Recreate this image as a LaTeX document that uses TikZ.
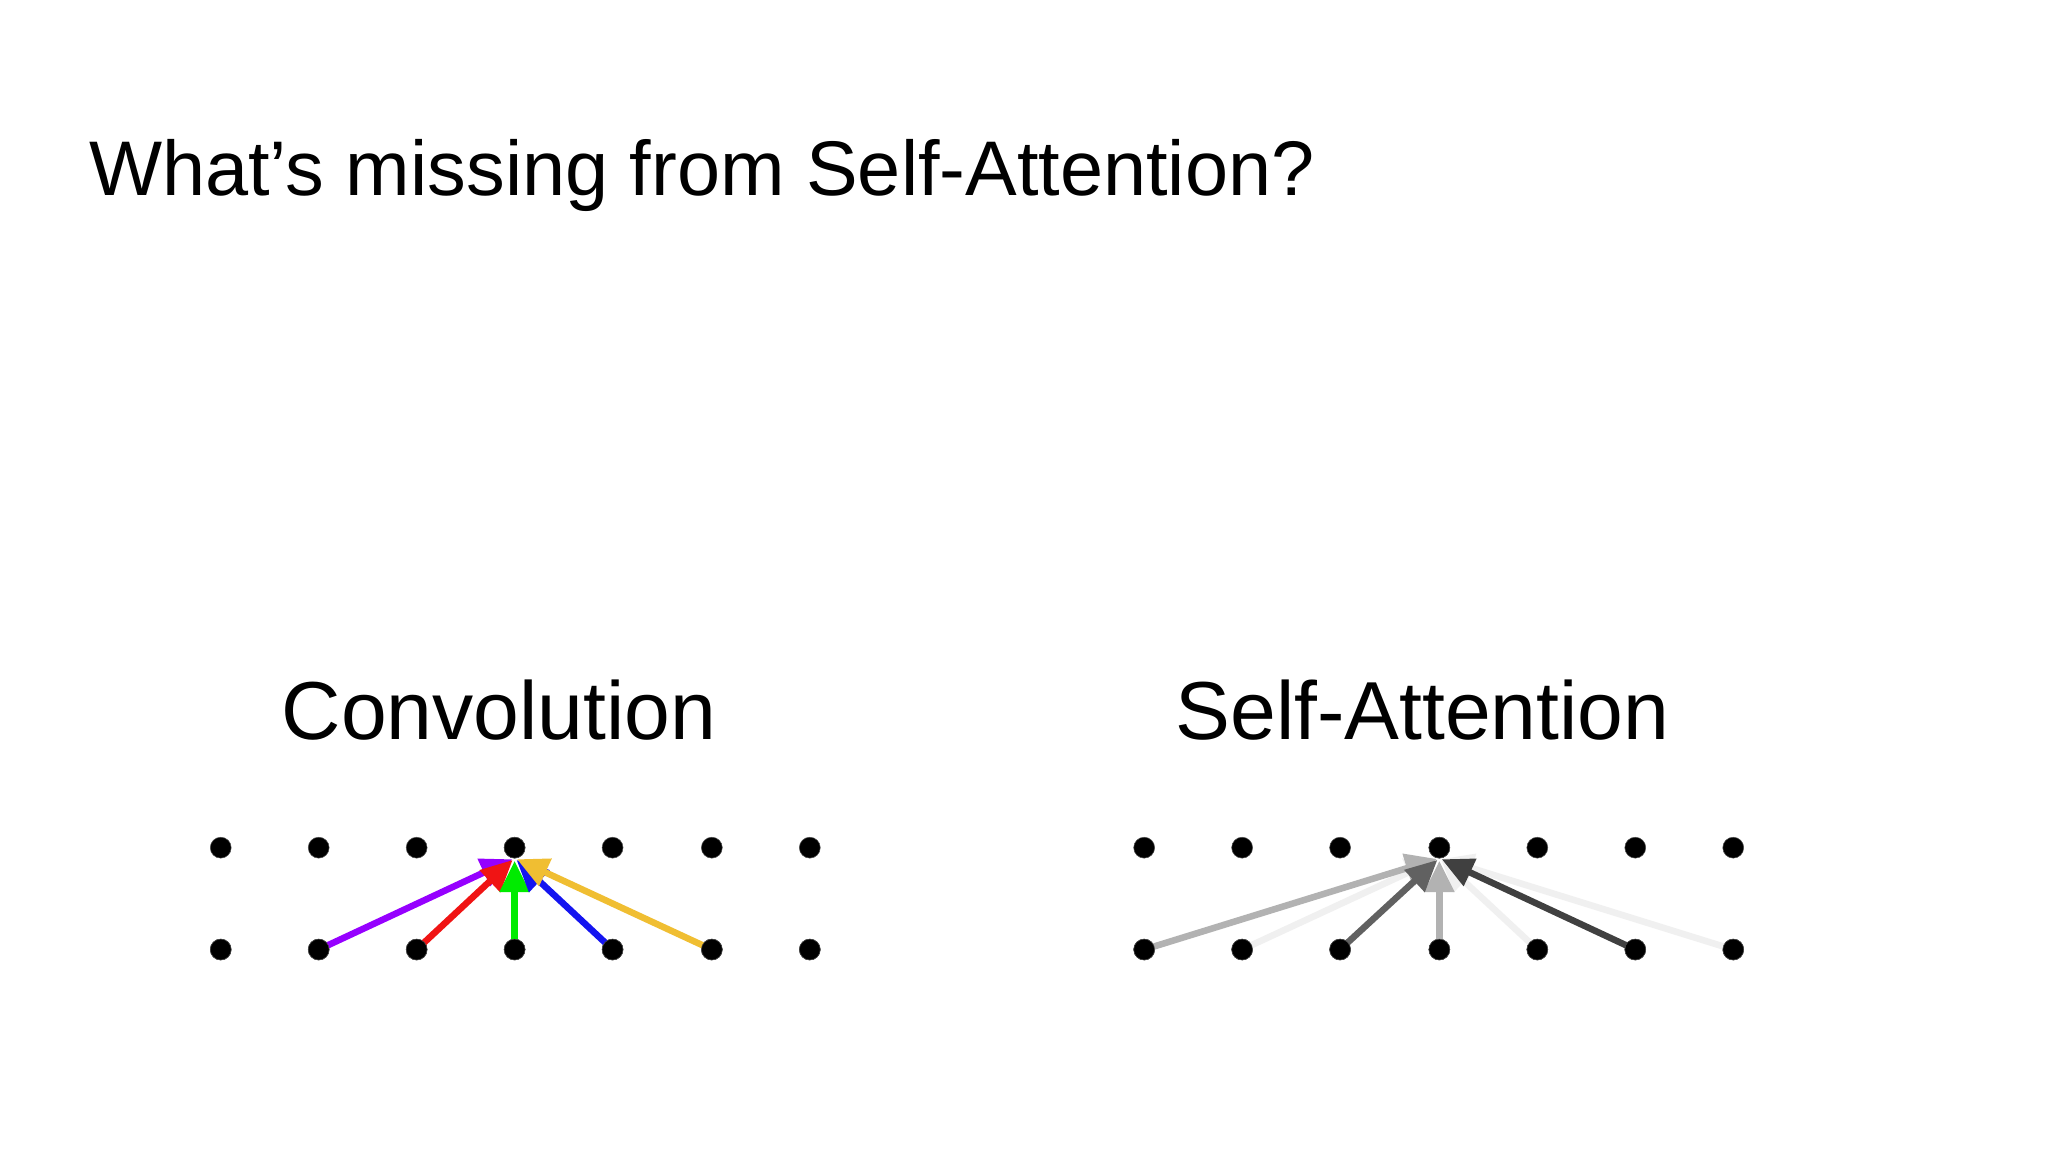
\documentclass[tikz,border=0pt]{standalone}
\usepackage{fontspec}
\setmainfont{Liberation Sans}
\usetikzlibrary{arrows.meta}
\begin{document}
\begin{tikzpicture}[x=1pt,y=-1pt,
  dot/.style={circle,fill=black,draw=black!70,inner sep=0pt,minimum size=16pt},
  arr/.style={line width=5pt,-{Triangle[length=24pt,width=22pt]},shorten >=2pt}]
\useasboundingbox (0,0) rectangle (1568,882);
\fill[white] (0,0) rectangle (1568,882);
\node[anchor=base west,inner sep=0pt,font=\fontsize{59.3}{68}\selectfont] (title) at (68,150) {What’s missing from Self-Attention?};
\node[anchor=base,inner sep=0pt,font=\fontsize{63}{72}\selectfont] (conv) at (382,566) {Convolution};
\node[anchor=base,inner sep=0pt,font=\fontsize{63}{72}\selectfont] (sa) at (1089,566) {Self-Attention};
\foreach \i/\x in {1/169,2/244,3/319,4/394,5/469,6/545,7/620}{
  \node[dot] (ct\i) at (\x,649) {};
  \node[dot] (cb\i) at (\x,727) {};}
\foreach \i/\x in {1/876,2/951,3/1026,4/1102,5/1177,6/1252,7/1327}{
  \node[dot] (st\i) at (\x,649) {};
  \node[dot] (sb\i) at (\x,727) {};}
\coordinate (ctip) at (394,657);
\coordinate (stip) at (1102,657);
\draw[arr,color={rgb,255:red,150;green,0;blue,255}] (cb2.center) -- (ctip);
\draw[arr,color={rgb,255:red,240;green,20;blue,20}] (cb3.center) -- (ctip);
\draw[arr,color={rgb,255:red,0;green,235;blue,0}] (cb4.center) -- (ctip);
\draw[arr,color={rgb,255:red,20;green,20;blue,240}] (cb5.center) -- (ctip);
\draw[arr,color={rgb,255:red,240;green,190;blue,50}] (cb6.center) -- (ctip);
\draw[arr,color=black!6] (sb2.center) -- (stip);
\draw[arr,color=black!6] (sb5.center) -- (stip);
\draw[arr,color=black!6] (sb7.center) -- (stip);
\draw[arr,color=black!30] (sb1.center) -- (stip);
\draw[arr,color=black!30] (sb4.center) -- (stip);
\draw[arr,color=black!62] (sb3.center) -- (stip);
\draw[arr,color=black!75] (sb6.center) -- (stip);
\foreach \i in {1,...,7}{\node[dot] at (cb\i) {};\node[dot] at (sb\i) {};}
\node[dot] at (ct4) {};\node[dot] at (st4) {};
\end{tikzpicture}
\end{document}
